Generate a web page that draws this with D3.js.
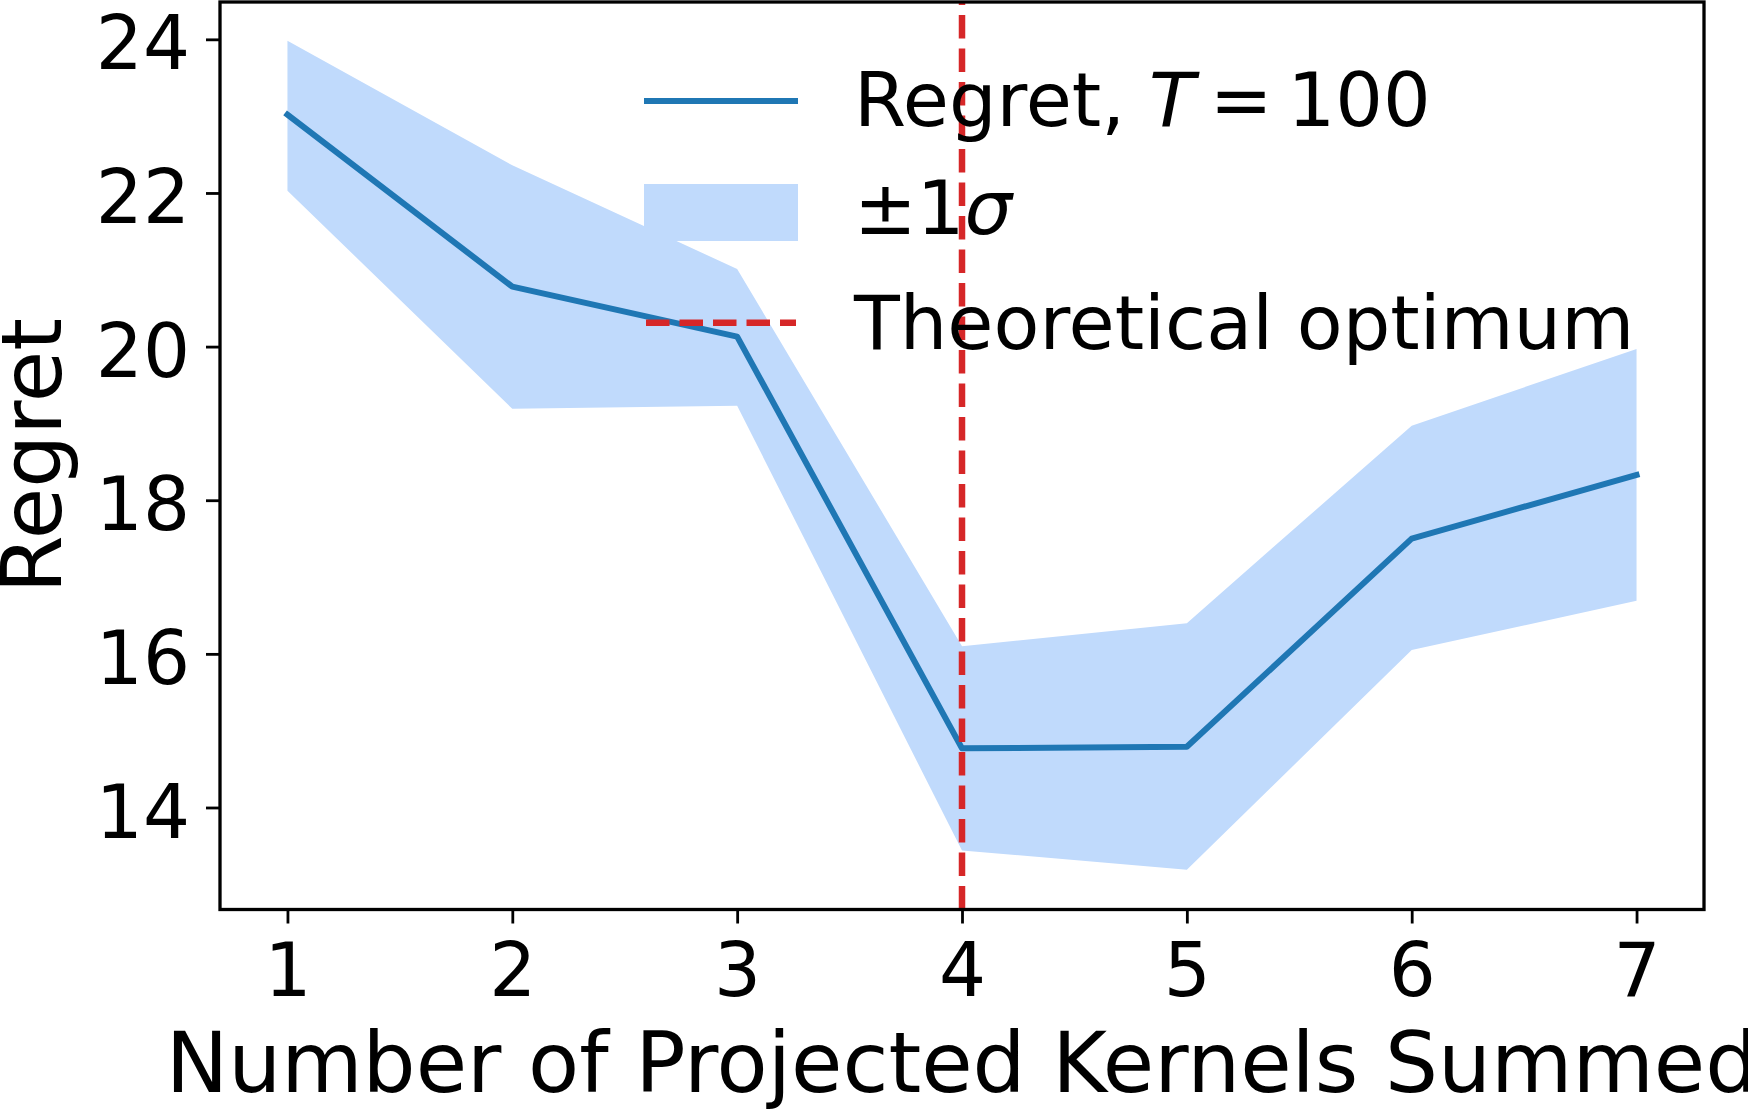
<!DOCTYPE html>
<html>
<head>
<meta charset="utf-8">
<script src="https://cdn.jsdelivr.net/npm/d3@7"></script>
<style>
  body { margin: 0; background: #fff; }
  svg { display: block; font-family: "DejaVu Sans", sans-serif; }
</style>
</head>
<body>
<div id="chart"></div>
<script>
// Data
var kernels = [1, 2, 3, 4, 5, 6, 7]
var regret = [23.02, 20.78, 20.13, 14.77, 14.79, 17.50, 18.33]
var upper = [23.98, 22.36, 21.01, 16.10, 16.40, 18.97, 19.97]
var lower = [22.03, 19.19, 19.23, 13.44, 13.19, 16.05, 16.69]
var optimum = 4
var yTicks = [14, 16, 18, 20, 22, 24]

var W = 1748, H = 1110
var plotL = 220, plotR = 1704, plotT = 2, plotB = 909.5

var blue = "#1f77b4", red = "#d62728", band = "#c0dafc"

var xScale = d3.scaleLinear().domain([0.7, 7.3]).range([plotL, plotR])
var yScale = d3.scaleLinear().domain([12.672, 24.486]).range([plotB, plotT])

var svg = d3.select("#chart").append("svg")
  .attr("width", W)
  .attr("height", H)

var rows = kernels.map(function(k, i) {
  return { k: k, m: regret[i], lo: lower[i], hi: upper[i] }
})

// +-1 sigma band
var area = d3.area()
  .x(function(d) { return xScale(d.k) })
  .y0(function(d) { return yScale(d.lo) })
  .y1(function(d) { return yScale(d.hi) })

svg.append("path")
  .datum(rows)
  .attr("d", area)
  .attr("fill", band)

// mean regret line
var line = d3.line()
  .x(function(d) { return xScale(d.k) })
  .y(function(d) { return yScale(d.m) })

svg.append("path")
  .datum(rows)
  .attr("d", line)
  .attr("fill", "none")
  .attr("stroke", blue)
  .attr("stroke-width", 6)
  .attr("stroke-linejoin", "round")
  .attr("stroke-linecap", "square")

// theoretical optimum (drawn bottom -> top so the dashes start at the bottom)
svg.append("line")
  .attr("x1", xScale(optimum)).attr("x2", xScale(optimum))
  .attr("y1", plotB).attr("y2", plotT)
  .attr("stroke", red)
  .attr("stroke-width", 6.5)
  .attr("stroke-dasharray", "23.5,10")

// axes
var xAxis = svg.append("g")
  .attr("transform", "translate(0," + plotB + ")")
  .call(d3.axisBottom(xScale).tickValues(kernels).tickFormat(d3.format("d")).tickSize(14).tickSizeOuter(0))
xAxis.select(".domain").remove()
xAxis.selectAll(".tick line").attr("stroke", "#000").attr("stroke-width", 2.8)
xAxis.selectAll(".tick text")
  .attr("y", 86.5).attr("dy", null)
  .attr("font-size", 74).attr("fill", "#000")
  .style("font-family", "DejaVu Sans")

var yAxis = svg.append("g")
  .attr("transform", "translate(" + plotL + ",0)")
  .call(d3.axisLeft(yScale).tickValues(yTicks).tickSize(14).tickSizeOuter(0))
yAxis.select(".domain").remove()
yAxis.selectAll(".tick line").attr("stroke", "#000").attr("stroke-width", 2.8)
yAxis.selectAll(".tick text")
  .attr("x", -30).attr("dy", "0.4em")
  .attr("font-size", 74).attr("fill", "#000")
  .style("font-family", "DejaVu Sans")

// frame
svg.append("rect")
  .attr("x", plotL).attr("y", plotT)
  .attr("width", plotR - plotL).attr("height", plotB - plotT)
  .attr("fill", "none")
  .attr("stroke", "#000")
  .attr("stroke-width", 3.3)

// axis labels
svg.append("text")
  .attr("x", (plotL + plotR) / 2)
  .attr("y", 1092)
  .attr("text-anchor", "middle")
  .attr("font-size", 83.6)
  .text("Number of Projected Kernels Summed")

svg.append("text")
  .attr("transform", "translate(61," + (plotT + plotB) / 2 + ") rotate(-90)")
  .attr("text-anchor", "middle")
  .attr("font-size", 83.6)
  .text("Regret")

// legend (no frame)
var lg = svg.append("g")
var lx0 = 644, lx1 = 798, tx = 854

lg.append("line")
  .attr("x1", lx0).attr("x2", lx1)
  .attr("y1", 101).attr("y2", 101)
  .attr("stroke", blue).attr("stroke-width", 6)
  .attr("stroke-linecap", "butt")

var t1 = lg.append("text").attr("x", tx).attr("y", 126).attr("font-size", 75)
t1.append("tspan").text("Regret, ")
t1.append("tspan").attr("font-style", "italic").text("T")
t1.append("tspan").text("\u2009=\u2009100")

lg.append("rect")
  .attr("x", lx0).attr("y", 184)
  .attr("width", lx1 - lx0).attr("height", 57)
  .attr("fill", band)

var t2 = lg.append("text").attr("x", tx).attr("y", 234).attr("font-size", 75)
t2.append("tspan").text("\u00b11")
t2.append("tspan").attr("font-style", "italic").text("\u03c3")

lg.append("line")
  .attr("x1", 646).attr("x2", 796)
  .attr("y1", 322.7).attr("y2", 322.7)
  .attr("stroke", red).attr("stroke-width", 6.5)
  .attr("stroke-dasharray", "23.5,10")

lg.append("text").attr("x", tx).attr("y", 349).attr("font-size", 75)
  .text("Theoretical optimum")
</script>
</body>
</html>
